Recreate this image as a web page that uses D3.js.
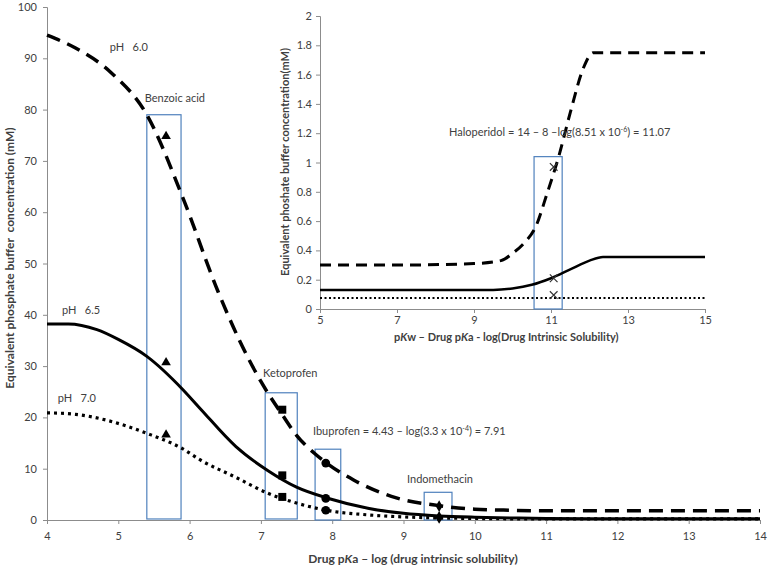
<!DOCTYPE html>
<html><head><meta charset="utf-8">
<script src="https://cdn.jsdelivr.net/npm/d3@7"></script>
<style>
body{margin:0;background:#fff;}
text{font-family:Lato,"Open Sans",sans-serif;fill:#404040;white-space:pre;}
</style></head>
<body><svg id="c" width="768" height="580"></svg>
<script>
// ---------- main chart data ----------
const mainXTicks = [4,5,6,7,8,9,10,11,12,13,14];
const mainYTicks = [0,10,20,30,40,50,60,70,80,90,100];
const ph60X = [4.0,4.4,4.9,5.4,5.9,6.4,6.7,7.0,7.3,7.5,7.75,7.95,8.3,8.9,9.5,10.0,10.5,11,12,13,14];
const ph60Y = [94.5,92,87.2,79,63,44.5,35,27,20.5,16.5,13,10.8,7.8,4.3,2.8,2.1,1.9,1.8,1.8,1.8,1.8];
const ph65X = [4.0,4.3,4.7,5.0,5.4,5.9,6.15,6.65,7.1,7.5,7.95,8.5,9.0,9.5,10,10.5,11,12,14];
const ph65Y = [38.2,38.2,37.1,35.2,31.9,25.5,21.7,14.3,9.6,6.4,4.2,2.3,1.3,0.8,0.55,0.4,0.3,0.25,0.25];
const ph70X = [4.0,4.4,4.85,5.4,5.9,6.15,6.65,7.1,7.5,8.0,8.5,9.0,9.5,10,11,14];
const ph70Y = [20.9,20.6,19.4,16.9,13.9,11.7,8.3,5.2,3.3,1.7,1.0,0.6,0.4,0.3,0.2,0.2];
// drugs: x position and values at pH 6.0 / 6.5 / 7.0
const drugNames = ["Benzoic acid","Ketoprofen","Ibuprofen","Indomethacin"];
const drugX = [5.67,7.3,7.91,9.5];
const drugY60 = [74.8,21.5,11.1,2.7];
const drugY65 = [30.7,8.7,4.2,0.6];
const drugY70 = [16.6,4.5,1.9,0.4];
const drugSymbols = ["triangle","square","circle","diamond"];
// highlight boxes (data units)
const boxX0 = [5.40,7.06,7.76,9.29];
const boxX1 = [5.88,7.51,8.12,9.68];
const boxY0 = [0.2,0.2,0,0];
const boxY1 = [79,24.8,13.8,5.4];
// ---------- inset data ----------
const insetXTicks = [5,7,9,11,13,15];
const insetYTicks = [0,0.2,0.4,0.6,0.8,1,1.2,1.4,1.6,1.8,2];
const inDashX = [5,7,9,9.7,10.0,10.3,10.6,10.9,11.2,11.5,11.85,12.1,13,15];
const inDashY = [0.30,0.30,0.31,0.33,0.38,0.45,0.56,0.79,1.04,1.34,1.65,1.75,1.75,1.75];
const inSolidX = [5,9.5,10.0,10.5,11.0,11.5,12.0,12.35,15];
const inSolidY = [0.13,0.13,0.14,0.165,0.21,0.27,0.33,0.355,0.355];
const inDotX = [5,15];
const inDotY = [0.075,0.075];
const haloX = 11.07;
const haloY = [0.97,0.21,0.095];
const haloBox = [10.56,11.29,0,1.04];

const svg = d3.select("#c");
const axisCol = "#8c8c8c", txtCol = "#404040", boxCol = "#4F81BD";

// ---------- main scales ----------
const x = d3.scaleLinear().domain([4,14]).range([47,760]);
const y = d3.scaleLinear().domain([0,100]).range([520,7]);

// axes
const gx = svg.append("g").attr("transform","translate(0,520)")
  .call(d3.axisBottom(x).tickValues(mainXTicks).tickSize(4).tickPadding(8).tickFormat(d3.format("d")));
const gy = svg.append("g").attr("transform","translate(47,0)")
  .call(d3.axisLeft(y).tickValues(mainYTicks).tickSize(4).tickPadding(6).tickFormat(d3.format("d")));
[gx,gy].forEach(g=>{
  g.select(".domain").attr("stroke",axisCol);
  g.selectAll(".tick line").attr("stroke",axisCol);
  g.selectAll(".tick text").attr("fill",txtCol).style("font-size","11px").style("font-family","Lato,'Open Sans',sans-serif");
});

// boxes
svg.append("g").selectAll("rect").data(d3.range(boxX0.length)).join("rect")
  .attr("x",i=>x(boxX0[i])).attr("width",i=>x(boxX1[i])-x(boxX0[i]))
  .attr("y",i=>y(boxY1[i])).attr("height",i=>y(boxY0[i])-y(boxY1[i]))
  .attr("fill","none").attr("stroke",boxCol).attr("stroke-width",1.2);

// curves
const line = d3.line().curve(d3.curveMonotoneX);
function curve(xs,ys,sx,sy){return line(xs.map((v,i)=>[sx(v),sy(ys[i])]));}
svg.append("path").attr("d",curve(ph60X,ph60Y,x,y)).attr("fill","none").attr("stroke","#000")
  .attr("stroke-width",3.5).attr("stroke-dasharray","14,8");
svg.append("path").attr("d",curve(ph65X,ph65Y,x,y)).attr("fill","none").attr("stroke","#000")
  .attr("stroke-width",3);
svg.append("path").attr("d",curve(ph70X,ph70Y,x,y)).attr("fill","none").attr("stroke","#000")
  .attr("stroke-width",3.2).attr("stroke-dasharray","3,4");

// markers
const symMap = {triangle:[d3.symbolTriangle,40],square:[d3.symbolSquare,64],circle:[d3.symbolCircle,60],diamond:[d3.symbolDiamond,40]};
[drugY60,drugY65,drugY70].forEach(arr=>{
  svg.append("g").selectAll("path").data(d3.range(drugX.length)).join("path")
    .attr("d",i=>d3.symbol(symMap[drugSymbols[i]][0],symMap[drugSymbols[i]][1])())
    .attr("transform",i=>`translate(${x(drugX[i])},${y(arr[i])})`)
    .attr("fill","#000");
});

// annotations
function txt(t,px,py,size,weight){
  return svg.append("text").attr("x",px).attr("y",py).style("font-size",(size||11)+"px")
    .style("font-weight",weight||"normal").text(t);
}
txt("pH   6.0", x(4.88), y(92.2)+4);
txt("pH   6.5", x(4.21), y(41)+4);
txt("pH   7.0", x(4.15), y(23.7)+4);
txt(drugNames[0], x(5.37), y(82.3)+4);
txt(drugNames[1], x(7.03), y(28.7)+4);
txt(drugNames[3], x(9.05), y(8.0)+4);
const ib = txt("", x(7.73), y(17.3)+4);
ib.append("tspan").text(drugNames[2]+" = 4.43 – log(3.3 x 10");
ib.append("tspan").attr("dy",-4).style("font-size","7px").text("-4");
ib.append("tspan").attr("dy",4).text(") = 7.91");

// axis titles
const xt = svg.append("text").attr("x",413).attr("y",563).attr("text-anchor","middle")
  .style("font-size","12px").style("font-weight","bold");
xt.append("tspan").text("Drug p");
xt.append("tspan").style("font-style","italic").text("K");
xt.append("tspan").text("a – log (drug intrinsic solubility)");
svg.append("text").attr("transform","translate(14,258) rotate(-90)").attr("text-anchor","middle")
  .style("font-size","12px").style("font-weight","bold").text("Equivalent phosphate buffer  concentration (mM)");

// ---------- inset ----------
const ix = d3.scaleLinear().domain([5,15]).range([320,705]);
const iy = d3.scaleLinear().domain([0,2]).range([309,16]);
const igx = svg.append("g").attr("transform","translate(0,309)")
  .call(d3.axisBottom(ix).tickValues(insetXTicks).tickSize(4).tickPadding(3).tickFormat(d3.format("d")));
const igy = svg.append("g").attr("transform","translate(320,0)")
  .call(d3.axisLeft(iy).tickValues(insetYTicks).tickSize(4).tickPadding(4).tickFormat(d=>String(+d.toFixed(1))));
[igx,igy].forEach(g=>{
  g.select(".domain").attr("stroke",axisCol);
  g.selectAll(".tick line").attr("stroke",axisCol);
  g.selectAll(".tick text").attr("fill",txtCol).style("font-size","11px").style("font-family","Lato,'Open Sans',sans-serif");
});
svg.append("rect").attr("x",ix(haloBox[0])).attr("width",ix(haloBox[1])-ix(haloBox[0]))
  .attr("y",iy(haloBox[3])).attr("height",iy(haloBox[2])-iy(haloBox[3]))
  .attr("fill","none").attr("stroke",boxCol).attr("stroke-width",1.2);
svg.append("path").attr("d",curve(inDashX,inDashY,ix,iy)).attr("fill","none").attr("stroke","#000")
  .attr("stroke-width",3).attr("stroke-dasharray","11,7");
svg.append("path").attr("d",curve(inSolidX,inSolidY,ix,iy)).attr("fill","none").attr("stroke","#000")
  .attr("stroke-width",2.5);
svg.append("path").attr("d",curve(inDotX,inDotY,ix,iy)).attr("fill","none").attr("stroke","#000")
  .attr("stroke-width",2).attr("stroke-dasharray","2,2.5");
svg.append("g").selectAll("path").data(haloY).join("path")
  .attr("d",d3.symbol(d3.symbolX,40)()).attr("transform",d=>`translate(${ix(haloX)},${iy(d)})`)
  .attr("fill","none").attr("stroke","#333").attr("stroke-width",1.2);
const ht = txt("", ix(8.35), iy(1.21)+4);
ht.append("tspan").text("Haloperidol = 14 – 8 –log(8.51 x 10");
ht.append("tspan").attr("dy",-4).style("font-size","7px").text("-6");
ht.append("tspan").attr("dy",4).text(") = 11.07");
const ixt = svg.append("text").attr("x",394).attr("y",341)
  .style("font-size","11px").style("font-weight","bold");
ixt.append("tspan").text("p");
ixt.append("tspan").style("font-style","italic").text("K");
ixt.append("tspan").text("w – Drug p");
ixt.append("tspan").style("font-style","italic").text("K");
ixt.append("tspan").text("a - log(Drug Intrinsic Solubility)");
svg.append("text").attr("transform","translate(289,162) rotate(-90)").attr("text-anchor","middle")
  .style("font-size","11px").style("font-weight","bold").text("Equivalent phoshate buffer concentration(mM)");
</script></body></html>
